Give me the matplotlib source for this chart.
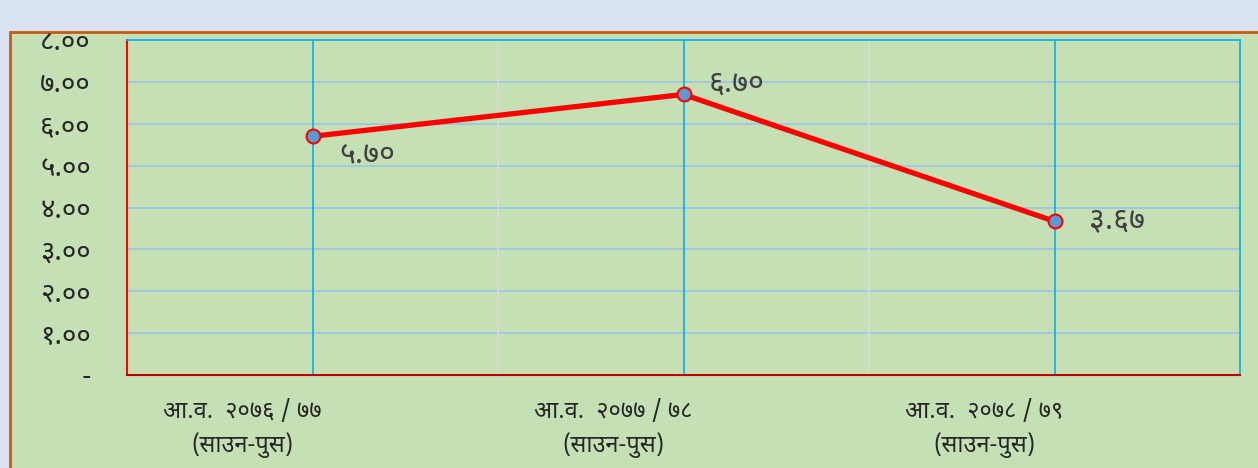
import matplotlib
matplotlib.use("Agg")
import matplotlib.pyplot as plt
from matplotlib.patches import Rectangle
from matplotlib.transforms import ScaledTranslation

plt.rcParams["font.family"] = ["Noto Sans Devanagari", "Mukta", "DejaVu Sans"]

# === data ===
categories = ["आ.व.  २०७६ / ७७\n(साउन-पुस)", "आ.व.  २०७७ / ७८\n(साउन-पुस)", "आ.व.  २०७८ / ७९\n(साउन-पुस)"]
values = [5.70, 6.70, 3.67]
value_labels = ["५.७०", "६.७०", "३.६७"]
yticks = [0, 1, 2, 3, 4, 5, 6, 7, 8]
ytick_labels = ["-", "१.००", "२.००", "३.००", "४.००", "५.००", "६.००", "७.००", "८.००"]

green = "#c5e0b4"

fig = plt.figure(figsize=(12.58, 4.68), dpi=100, facecolor="#dae3f3")
# green panel with orange border
fig.patches.append(Rectangle((10 / 1258, -0.01), 1.0, 1 - 32 / 468 + 0.01,
                             transform=fig.transFigure, facecolor=green,
                             edgecolor="#c55a11", linewidth=2, zorder=-10))

ax = fig.add_axes([127 / 1258, 1 - 375 / 468, (1240 - 127) / 1258, (375 - 40) / 468])
ax.set_facecolor(green)
x = list(range(len(values)))
ax.set_xlim(-0.5, 2.5)
ax.set_ylim(0, 8)

# grid
for yv in yticks[1:-1]:
    ax.axhline(yv, color="#9dc3e6", lw=1.2, zorder=1)
for xv in x:
    ax.axvline(xv, color="#00b0f0", lw=1.2, zorder=1)
for xv in [0.5, 1.5]:
    ax.axvline(xv, color="#d9d9d9", lw=1.2, zorder=1)

for s in ["top", "right"]:
    ax.spines[s].set_color("#00b0f0")
    ax.spines[s].set_linewidth(1.2)
ax.spines["left"].set_color("#ff0000")
ax.spines["left"].set_linewidth(1.5)
ax.spines["bottom"].set_color("#c00000")
ax.spines["bottom"].set_linewidth(1.5)

ax.plot(x, values, color="#ff0000", lw=3.8, marker="o", markersize=10,
        markerfacecolor="#5b9bd5", markeredgecolor="#ff0000", markeredgewidth=1.5, zorder=3)

offsets = [(19, -14), (18, 8), (25, 1)]
for xi, v, lab, off in zip(x, values, value_labels, offsets):
    ax.annotate(lab, (xi, v), xytext=off, textcoords="offset points",
                fontsize=22, color="#404040", va="center", ha="left")

ax.set_yticks(yticks)
ax.set_yticklabels(ytick_labels, fontsize=20, color="#262626")
ax.set_xticks(x)
ax.set_xticklabels(categories, fontsize=17, color="#262626", linespacing=1.45)
ax.tick_params(axis="both", length=0)
ax.tick_params(axis="y", pad=26)
ax.tick_params(axis="x", pad=18)
shift = ScaledTranslation(-70 / 100, 0, fig.dpi_scale_trans)
for lab in ax.get_xticklabels():
    lab.set_transform(lab.get_transform() + shift)

fig.savefig("out.png", facecolor=fig.get_facecolor())
